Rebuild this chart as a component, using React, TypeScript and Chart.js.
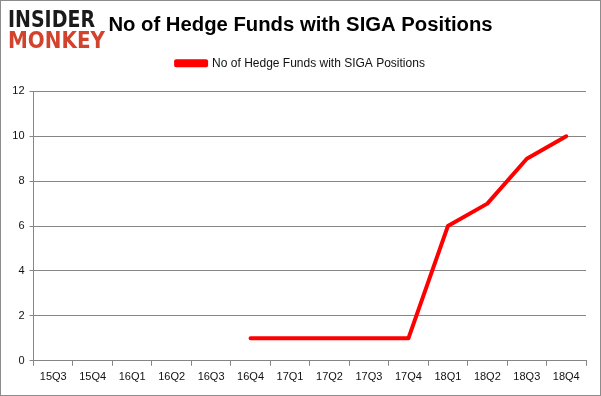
import React, { useEffect, useRef } from "react";
import { Chart, registerables } from "chart.js";

Chart.register(...registerables);

const categories = ["15Q3", "15Q4", "16Q1", "16Q2", "16Q3", "16Q4", "17Q1", "17Q2", "17Q3", "17Q4", "18Q1", "18Q2", "18Q3", "18Q4"];
const hedgeFunds = [null, null, null, null, null, 1, 1, 1, 1, 1, 6, 7, 9, 10];
const seriesName = "No of Hedge Funds with SIGA Positions";
const chartTitle = "No of Hedge Funds with SIGA Positions";
const logoTop = "INSIDER";
const logoBottom = "MONKEY";

const framePlugin = {
  id: "frame",
  beforeDraw(chart: any) {
    const ctx = chart.ctx;
    ctx.save();
    ctx.fillStyle = "#ffffff";
    ctx.fillRect(0, 0, chart.width, chart.height);
    ctx.restore();
  },
  afterDraw(chart: any) {
    const ctx = chart.ctx;
    ctx.save();
    ctx.strokeStyle = "#8c8c8c";
    ctx.lineWidth = 1;
    ctx.strokeRect(0.5, 0.5, chart.width - 1, chart.height - 1);
    const drawFit = (text: string, color: string, x: number, top: number, w: number, h: number) => {
      ctx.save();
      ctx.font = "bold 20px 'DejaVu Sans'";
      ctx.textBaseline = "alphabetic";
      ctx.textAlign = "left";
      const m = ctx.measureText(text);
      const sx = w / m.width;
      const capH = 20 * 0.729;
      const sy = h / capH;
      ctx.translate(x, top + h);
      ctx.scale(sx, sy);
      ctx.fillStyle = color;
      ctx.fillText(text, 0, 0);
      ctx.restore();
    };
    drawFit(logoTop, "#1a1a1a", 8, 10, 87, 17);
    drawFit(logoBottom, "#d2432e", 8, 31, 97, 17);
    ctx.restore();
  },
};

export default function App() {
  const ref = useRef<HTMLCanvasElement | null>(null);
  useEffect(() => {
    document.body.style.margin = "0";
    const canvas = ref.current!;
    const chart = new Chart(canvas, {
      type: "line",
      data: {
        labels: categories,
        datasets: [
          {
            label: seriesName,
            data: hedgeFunds,
            borderColor: "#ff0000",
            backgroundColor: "#ff0000",
            borderWidth: 4,
            pointRadius: 0,
            tension: 0,
            borderCapStyle: "round",
            borderJoinStyle: "round",
            spanGaps: false,
          },
        ],
      },
      options: {
        responsive: false,
        devicePixelRatio: 1,
        animation: false,
        layout: { padding: { left: 0, right: 0, top: 0, bottom: 7 } },
        plugins: {
          title: {
            display: true,
            text: chartTitle,
            color: "#000",
            font: { family: "'Liberation Sans'", size: 20.3, weight: "bold" },
            padding: { top: 13, bottom: 10 },
          },
          legend: {
            display: true,
            labels: {
              color: "#111",
              font: { family: "'Liberation Sans'", size: 12 },
              boxWidth: 30,
              boxHeight: 4,
              padding: 10,
              filter: (item: any) => item.datasetIndex === 0,
            },
          },
          tooltip: { enabled: false },
        },
        scales: {
          x: {
            offset: true,
            grid: {
              offset: true,
              drawOnChartArea: false,
              drawTicks: true,
              tickLength: 5,
              color: "#868686",
            },
            border: { display: true, color: "#868686" },
            ticks: {
              color: "#111",
              font: { family: "'Liberation Sans'", size: 11 },
              padding: 5,
              maxRotation: 0,
              autoSkip: false,
            },
          },
          xTopSpacer: {
            type: "category",
            position: "top",
            display: true,
            afterFit(scale: any) {
              scale.height = 12;
            },
            grid: { display: false, drawOnChartArea: false },
            border: { display: false },
            ticks: { display: false },
          },
          y: {
            min: 0,
            max: 12,
            afterFit(scale: any) {
              scale.width = 33.5;
            },
            grid: {
              color: "#868686",
              drawTicks: true,
              tickLength: 4,
            },
            border: { display: true, color: "#868686" },
            ticks: {
              stepSize: 2,
              color: "#111",
              font: { family: "'Liberation Sans'", size: 11 },
              padding: 5,
            },
          },
          yRightSpacer: {
            type: "linear",
            position: "right",
            display: true,
            afterFit(scale: any) {
              scale.width = 15;
            },
            grid: { display: false, drawOnChartArea: false },
            border: { display: false },
            ticks: { display: false },
          },
        },
      },
      plugins: [framePlugin],
    });
    return () => chart.destroy();
  }, []);
  return (
    <div style={{ position: "absolute", left: 0, top: 0, width: 601, height: 396 }}>
      <canvas ref={ref} width={601} height={396} style={{ width: 601, height: 396, display: "block" }} />
    </div>
  );
}
